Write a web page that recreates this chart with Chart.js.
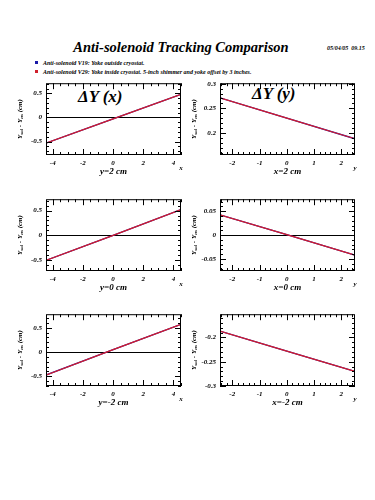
<!DOCTYPE html>
<html>
<head>
<meta charset="utf-8">
<script src="https://cdn.jsdelivr.net/npm/chart.js"></script>
<style>
  body { margin: 0; background: #fff; width: 375px; height: 500px; position: relative; overflow: hidden;
         font-family: "Liberation Serif", serif; font-weight: bold; font-style: italic; color: #000; }
  .abs { position: absolute; white-space: nowrap; }
  #title { left: 0; width: 362px; top: 38px; text-align: center; font-size: 14.5px; line-height: 18px; }
  #stamp { left: 327px; top: 45px; font-size: 6px; }
  .leg { left: 43px; font-size: 6px; line-height: 6px; }
  .mark { width: 3px; height: 3px; }
  .delta { font-size: 17px; line-height: 20px; }
  canvas { position: absolute; }
</style>
</head>
<body>
<div id="title" class="abs">Anti-solenoid Tracking Comparison</div>
<div id="stamp" class="abs">05/04/05&nbsp;&nbsp;09.15</div>
<div class="abs mark" style="left:35px;top:61px;background:#1a1aa8"></div>
<div class="abs leg" style="top:60px">Anti-solenoid V19: Yoke outside cryostat.</div>
<div class="abs mark" style="left:35px;top:70px;background:#d0202c"></div>
<div class="abs leg" style="top:69px">Anti-solenoid V29: Yoke inside cryostat. 5-inch shimmer and yoke offset by 3 inches.</div>
<div class="abs delta" style="left:78px;top:87px">&Delta;Y (x)</div>
<div class="abs delta" style="left:252px;top:84px">&Delta;Y (y)</div>

<canvas id="p1" width="190" height="102" style="left:0;top:75px"></canvas>
<canvas id="p2" width="189" height="102" style="left:186px;top:75px"></canvas>
<canvas id="p3" width="190" height="102" style="left:0;top:191px"></canvas>
<canvas id="p4" width="189" height="102" style="left:186px;top:191px"></canvas>
<canvas id="p5" width="190" height="102" style="left:0;top:306px"></canvas>
<canvas id="p6" width="189" height="102" style="left:186px;top:306px"></canvas>

<script>
// positions along the scan where the curves were read
const xLeft = [-4.5, 0, 4.5];
const xRight = [-2.5, 0, 2.5];

// dY vs x, rows y = 2, 0, -2 cm
const dyx19_y2 = [-0.54, -0.03, 0.48];
const dyx29_y2 = [-0.54, -0.03, 0.48];
const dyx19_y0 = [-0.51, 0.0, 0.52];
const dyx29_y0 = [-0.51, 0.0, 0.52];
const dyx19_ym2 = [-0.48, 0.05, 0.57];
const dyx29_ym2 = [-0.48, 0.05, 0.57];

// dY vs y, rows x = 2, 0, -2 cm
const dyy19_x2 = [0.272, 0.23, 0.188];
const dyy29_x2 = [0.272, 0.23, 0.188];
const dyy19_x0 = [0.043, 0.001, -0.042];
const dyy29_x0 = [0.043, 0.001, -0.042];
const dyy19_xm2 = [-0.186, -0.228, -0.27];
const dyy29_xm2 = [-0.186, -0.228, -0.27];

// tick labels
const xTicksLeft = [-4, -2, 0, 2, 4];
const xTicksRight = [-2, -1, 0, 1, 2];
const yTicksLeft = [-0.5, 0, 0.5];
const yTicksR1 = [0.2, 0.25, 0.3];
const yTicksR2 = [-0.05, 0, 0.05];
const yTicksR3 = [-0.3, -0.25, -0.2];

const captions = ["y=2 cm", "x=2 cm", "y=0 cm", "x=0 cm", "y=-2 cm", "x=-2 cm"];

const FONT = "'Liberation Serif', serif";

function isMajor(v, arr) {
  return arr.some((t) => Math.abs(t - v) < 1e-6);
}

function stepsIn(min, max, step) {
  const out = [];
  for (let n = Math.ceil(min / step - 1e-6); n * step <= max + 1e-9; n++) out.push(n * step);
  return out;
}

// frame with inward ticks on all four sides, plus y title and axis name
const framePlugin = {
  id: "frame",
  afterDatasetsDraw(chart) {
    const o = chart.options.plugins.frame;
    const { ctx, chartArea: a } = chart;
    const x = chart.scales.x, y = chart.scales.y;
    ctx.save();
    ctx.strokeStyle = "#000";
    ctx.lineWidth = 1;
    ctx.strokeRect(a.left + 0.5, a.top + 0.5, a.right - a.left - 1, a.bottom - a.top - 1);
    ctx.beginPath();
    stepsIn(x.min, x.max, o.xMinor).forEach((v) => {
      const px = Math.round(x.getPixelForValue(v)) + 0.5;
      const len = isMajor(v, o.xTicks) ? 6 : 3;
      ctx.moveTo(px, a.bottom); ctx.lineTo(px, a.bottom - len);
      ctx.moveTo(px, a.top); ctx.lineTo(px, a.top + len);
    });
    stepsIn(y.min, y.max, o.yMinor).forEach((v) => {
      const py = Math.round(y.getPixelForValue(v)) + 0.5;
      const len = isMajor(v, o.yTicks) ? 6 : 3;
      ctx.moveTo(a.left, py); ctx.lineTo(a.left + len, py);
      ctx.moveTo(a.right, py); ctx.lineTo(a.right - len, py);
    });
    ctx.stroke();

    // y title with subscripts
    const parts = [["Y", 0], ["sol", 1], [" - Y", 0], ["ns", 1], [" (cm)", 0]];
    const big = "bold italic 7px " + FONT, small = "bold italic 5px " + FONT;
    ctx.translate(a.left - 26, (a.top + a.bottom) / 2);
    ctx.rotate(-Math.PI / 2);
    let w = 0;
    parts.forEach(([t, s]) => { ctx.font = s ? small : big; w += ctx.measureText(t).width; });
    let xx = -w / 2;
    ctx.fillStyle = "#000";
    ctx.textBaseline = "middle";
    parts.forEach(([t, s]) => {
      ctx.font = s ? small : big;
      ctx.fillText(t, xx, s ? 2 : 0);
      xx += ctx.measureText(t).width;
    });
    ctx.restore();

    ctx.save();
    ctx.font = "bold italic 7px " + FONT;
    ctx.textAlign = "center";
    ctx.textBaseline = "middle";
    ctx.fillStyle = "#000";
    ctx.fillText(o.axisName, a.right, a.bottom + 13);
    ctx.restore();
  },
};

function makePanel(id, xs, v19, v29, cfg) {
  const pts = (vals) => xs.map((x, i) => ({ x: x, y: vals[i] }));
  new Chart(document.getElementById(id), {
    type: "line",
    data: {
      datasets: [
        // red drawn on top of blue (lower order is drawn last)
        { label: "V19", data: pts(v19), borderColor: "#1a1aa8", borderWidth: 1.3, pointRadius: 0, tension: 0, order: 2 },
        { label: "V29", data: pts(v29), borderColor: "#d41c2c", borderWidth: 1.2, pointRadius: 0, tension: 0, order: 1 },
      ],
    },
    options: {
      responsive: false,
      animation: false,
      events: [],
      layout: { padding: { top: 4, right: cfg.padRight, left: 0, bottom: 0 } },
      plugins: {
        legend: { display: false },
        tooltip: { enabled: false },
        frame: { xTicks: cfg.xTicks, yTicks: cfg.yTicks, xMinor: cfg.xMinor, yMinor: cfg.yMinor, axisName: cfg.axisName },
      },
      scales: {
        x: {
          type: "linear",
          min: cfg.xMin,
          max: cfg.xMax,
          afterBuildTicks: (s) => { s.ticks = cfg.xTicks.map((v) => ({ value: v })); },
          afterFit: (s) => { s.height = 22; },
          grid: { display: false, drawTicks: false },
          border: { display: false },
          ticks: { padding: 4, color: "#000", font: { family: FONT, size: 7, weight: "bold", style: "italic" }, callback: (v) => String(v) },
          title: { display: true, text: cfg.caption, color: "#000", padding: 0, font: { family: FONT, size: 9, weight: "bold", style: "italic" } },
        },
        y: {
          min: cfg.yMin,
          max: cfg.yMax,
          afterBuildTicks: (s) => { s.ticks = cfg.yTicks.map((v) => ({ value: v })); },
          afterFit: (s) => { s.width = cfg.yWidth; },
          grid: {
            drawTicks: false,
            color: (c) => (c.tick && Math.abs(c.tick.value) < 1e-9 ? "#000" : "rgba(0,0,0,0)"),
            lineWidth: 1,
          },
          border: { display: false },
          ticks: { padding: 4, color: "#000", font: { family: FONT, size: 7, weight: "bold", style: "italic" }, callback: (v) => String(v) },
        },
      },
    },
    plugins: [framePlugin],
  });
}

const left = { xMin: -4.45, xMax: 4.5, xTicks: xTicksLeft, xMinor: 0.5, yMinor: 0.1, yTicks: yTicksLeft, yWidth: 46, padRight: 9, axisName: "x" };
const right = { xMin: -2.45, xMax: 2.5, xTicks: xTicksRight, xMinor: 0.2, yMinor: 0.01, yWidth: 34, padRight: 20, axisName: "y" };

makePanel("p1", xLeft, dyx19_y2, dyx29_y2, Object.assign({}, left, { yMin: -0.78, yMax: 0.71, caption: captions[0] }));
makePanel("p2", xRight, dyy19_x2, dyy29_x2, Object.assign({}, right, { yMin: 0.155, yMax: 0.301, yTicks: yTicksR1, caption: captions[1] }));
makePanel("p3", xLeft, dyx19_y0, dyx29_y0, Object.assign({}, left, { yMin: -0.72, yMax: 0.73, caption: captions[2] }));
makePanel("p4", xRight, dyy19_x0, dyy29_x0, Object.assign({}, right, { yMin: -0.075, yMax: 0.075, yTicks: yTicksR2, caption: captions[3] }));
makePanel("p5", xLeft, dyx19_ym2, dyx29_ym2, Object.assign({}, left, { yMin: -0.7, yMax: 0.78, caption: captions[4] }));
makePanel("p6", xRight, dyy19_xm2, dyy29_xm2, Object.assign({}, right, { yMin: -0.3, yMax: -0.152, yTicks: yTicksR3, caption: captions[5] }));
</script>
</body>
</html>
